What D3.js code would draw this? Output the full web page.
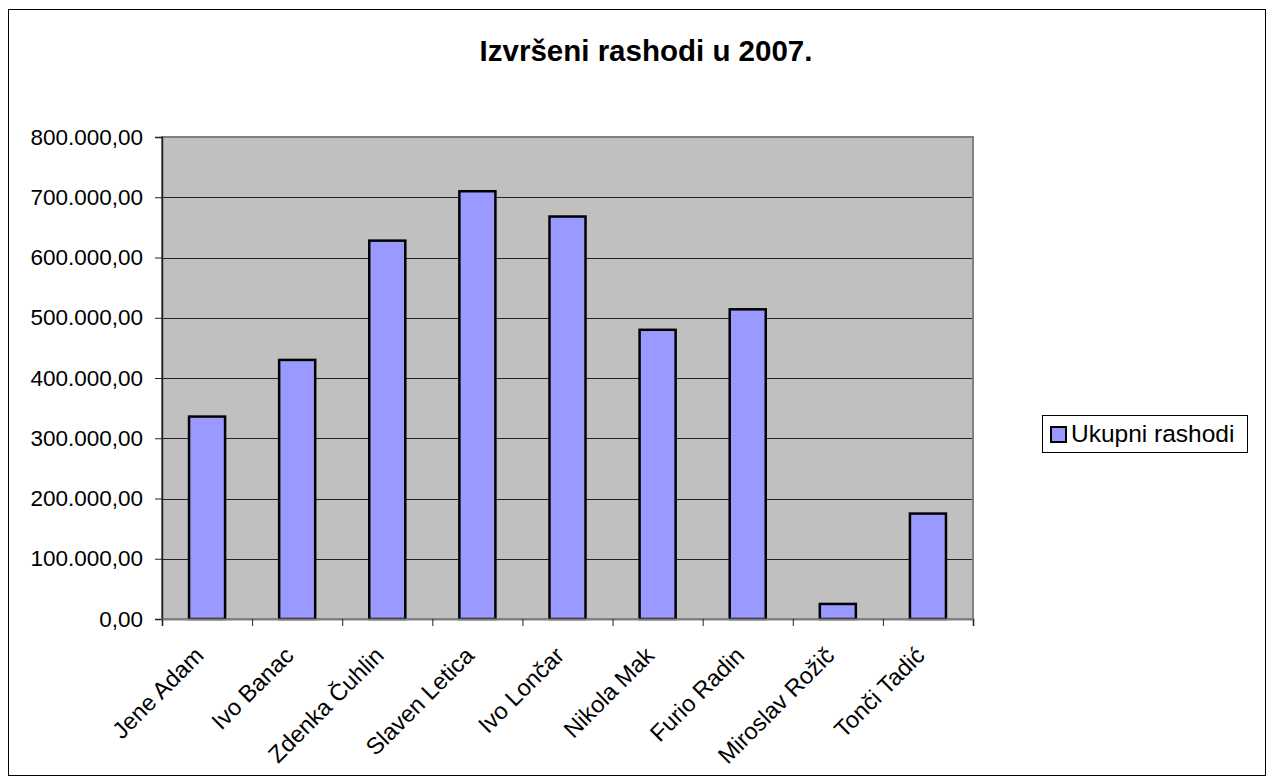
<!DOCTYPE html>
<html><head><meta charset="utf-8">
<script src="https://cdn.jsdelivr.net/npm/d3@7"></script>
<style>body{margin:0;background:#fff}svg{display:block}text{font-family:Arial,"Liberation Sans",sans-serif}</style>
</head><body><svg id="c" width="1274" height="782"></svg>
<script>
const title = "Izvršeni rashodi u 2007.";
const seriesName = "Ukupni rashodi";
const categories = ["Jene Adam","Ivo Banac","Zdenka Čuhlin","Slaven Letica","Ivo Lončar","Nikola Mak","Furio Radin","Miroslav Rožič","Tonči Tadić"];
const values = [336000, 430000, 628000, 710000, 668000, 480000, 514000, 25000, 175000];
const yTicks = [0,100000,200000,300000,400000,500000,600000,700000,800000];

const svg = d3.select("#c");
const L=162, R=973, T=137, B=619;
svg.append("rect").attr("x",8.5).attr("y",9.5).attr("width",1257).attr("height",766).attr("fill","#fff").attr("stroke","#000").attr("stroke-width",1);

const x = d3.scaleBand().domain(categories).range([L,R]).paddingInner(0.6).paddingOuter(0.3);
const y = d3.scaleLinear().domain([0,800000]).range([B,T]);
const fmt = v => d3.format(",.2f")(v).replace(/,/g,"#").replace(/\./g,",").replace(/#/g,".");

svg.append("rect").attr("x",L).attr("y",T).attr("width",R-L).attr("height",B-T).attr("fill","#C0C0C0");
svg.append("g").selectAll("line").data(yTicks.slice(1)).join("line")
  .attr("x1",L).attr("x2",R).attr("y1",d=>Math.round(y(d))+0.5).attr("y2",d=>Math.round(y(d))+0.5)
  .attr("stroke","#222").attr("stroke-width",1);
svg.append("rect").attr("x",L).attr("y",T).attr("width",R-L).attr("height",B-T).attr("fill","none").attr("stroke","#808080").attr("stroke-width",2);

svg.append("g").selectAll("rect").data(values).join("rect")
  .attr("x",(d,i)=>x(categories[i])).attr("width",x.bandwidth())
  .attr("y",d=>y(d)).attr("height",d=>B-y(d))
  .attr("fill","#9999FF").attr("stroke","#000").attr("stroke-width",2.5);

const ya = svg.append("g").attr("transform",`translate(${L},0)`)
  .call(d3.axisLeft(y).tickValues(yTicks).tickFormat(fmt).tickSize(7).tickPadding(12));
ya.select(".domain").attr("stroke","#222").attr("stroke-width",1.5);
ya.selectAll(".tick line").attr("stroke","#222");
ya.selectAll("text").attr("font-size","22.5px").attr("fill","#000").style("font-family","Arial, 'Liberation Sans', sans-serif");

const xb = d3.scaleLinear().domain([0,categories.length]).range([L,R]);
const xa = svg.append("g").attr("transform",`translate(0,${B})`)
  .call(d3.axisBottom(xb).tickValues(d3.range(0,categories.length+1)).tickSize(7).tickFormat(""));
xa.select(".domain").attr("stroke","#808080").attr("stroke-width",2);
xa.selectAll(".tick line").attr("stroke","#222");

svg.append("g").selectAll("text").data(categories).join("text")
  .attr("transform",d=>`translate(${x(d)+x.bandwidth()/2-2},${B+38}) rotate(-45)`)
  .attr("text-anchor","end").attr("font-size","23.5px").attr("fill","#000").text(d=>d);

svg.append("text").attr("x",646).attr("y",61).attr("text-anchor","middle")
  .attr("font-size","29.5px").attr("font-weight","bold").text(title);

const lg = svg.append("g");
lg.append("rect").attr("x",1042.5).attr("y",415.5).attr("width",205).attr("height",37).attr("fill","#fff").attr("stroke","#000");
lg.append("rect").attr("x",1051).attr("y",427).attr("width",15).attr("height",15).attr("fill","#9999FF").attr("stroke","#000").attr("stroke-width",2);
lg.append("text").attr("x",1071).attr("y",442).attr("font-size","24.5px").text(seriesName);
</script></body></html>
